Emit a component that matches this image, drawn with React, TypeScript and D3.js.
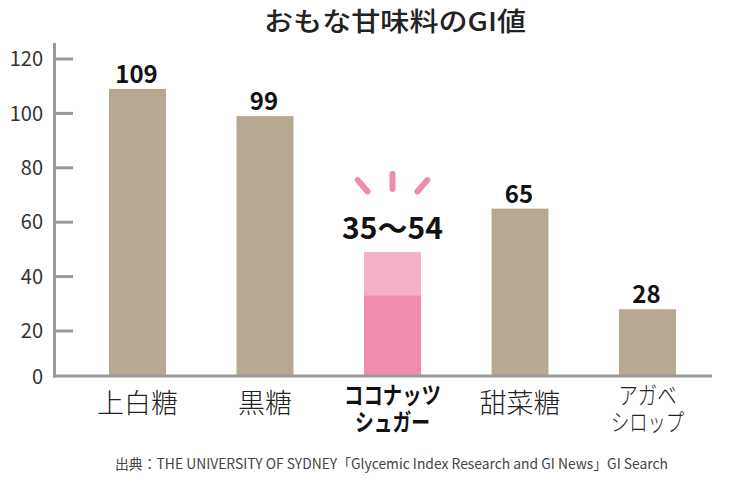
import React from "react";
import * as d3 from "d3";

const categories = ["上白糖", "黒糖", "ココナッツシュガー", "甜菜糖", "アガベシロップ"];
const labelLines = [["上白糖"], ["黒糖"], ["ココナッツ", "シュガー"], ["甜菜糖"], ["アガベ", "シロップ"]];
const values = [109, 99, null, 65, 28];
const valueLabels = ["109", "99", "35〜54", "65", "28"];
const rangeLow = 33;
const rangeHigh = 49;
const yTicks = [0, 20, 40, 60, 80, 100, 120];
const title = "おもな甘味料のGI値";
const source = "出典：THE UNIVERSITY OF SYDNEY「Glycemic Index Research and GI News」GI Search";

const W = 750, H = 500;
const FONT = "'Noto Sans CJK JP', 'Noto Sans', sans-serif";
const TAN = "#b6a893";
const PINK_DARK = "#ef8bab";
const PINK_LIGHT = "#f4b0c6";
const AXIS = "#9a9a9a";

const rayDefs = [
  { deg: -41, r1: 38, r2: 53 },
  { deg: 0, r1: 31, r2: 46 },
  { deg: 41, r1: 38, r2: 53 },
];

export default function App() {
  const y = d3.scaleLinear().domain([0, 120]).range([385.4, 59]);
  const x = d3.scaleBand<string>().domain(categories).range([55, 730]).paddingInner(0.553).paddingOuter(0.4235);
  const baseY = 376;
  const axisX = 54.5;
  const bw = x.bandwidth();

  const highlightIdx = 2;
  const hc = (x(categories[highlightIdx]) as number) + bw / 2;
  const labelY = y(rangeHigh) - 13;
  const oy = labelY - 19;
  const rays = rayDefs.map(({ deg, r1, r2 }) => {
    const r = (deg * Math.PI) / 180;
    return {
      x1: hc + Math.sin(r) * r1,
      y1: oy - Math.cos(r) * r1,
      x2: hc + Math.sin(r) * r2,
      y2: oy - Math.cos(r) * r2,
    };
  });

  return (
    <svg width={W} height={H} style={{ position: "absolute", left: 0, top: 0, background: "#fff" }} fontFamily={FONT}>
      <text x={395} y={30.5} textAnchor="middle" fontSize={26} fontWeight={500} fill="#222" textLength={262} lengthAdjust="spacingAndGlyphs">{title}</text>

      {/* y ticks */}
      {yTicks.map((t) => (
        <g key={t}>
          {t !== 0 && <line x1={axisX} x2={73} y1={y(t)} y2={y(t)} stroke={AXIS} strokeWidth={3} />}
          <text x={43} y={t === 0 ? baseY + 1 : y(t)} dy="0.36em" textAnchor="end" fontSize={20} fill="#333">{t}</text>
        </g>
      ))}

      {/* bars */}
      {categories.map((c, i) => {
        const bx = x(c) as number;
        const v = values[i];
        if (v === null) {
          return (
            <g key={c}>
              <rect x={bx} y={y(rangeHigh)} width={bw} height={baseY - y(rangeHigh)} fill={PINK_LIGHT} />
              <rect x={bx} y={y(rangeLow)} width={bw} height={baseY - y(rangeLow)} fill={PINK_DARK} />
              <text x={bx + bw / 2} y={labelY} textAnchor="middle" fontSize={30} fontWeight={700} fill="#111">{valueLabels[i]}</text>
            </g>
          );
        }
        return (
          <g key={c}>
            <rect x={bx} y={y(v)} width={bw} height={baseY - y(v)} fill={TAN} />
            <text x={bx + bw / 2 - 1} y={y(v) - 6} textAnchor="middle" fontSize={24} fontWeight={700} fill="#111">{valueLabels[i]}</text>
          </g>
        );
      })}

      {rays.map((r, i) => (
        <line key={i} x1={r.x1} y1={r.y1} x2={r.x2} y2={r.y2} stroke={PINK_DARK} strokeWidth={6} strokeLinecap="round" />
      ))}

      {/* axes */}
      <line x1={axisX} x2={axisX} y1={43} y2={baseY + 1.5} stroke={AXIS} strokeWidth={3} />
      <line x1={axisX - 1.5} x2={712} y1={baseY} y2={baseY} stroke={AXIS} strokeWidth={3} />

      {/* category labels */}
      {categories.map((c, i) => {
        const cx = (x(c) as number) + bw / 2;
        const lines = labelLines[i];
        const bold = i === highlightIdx;
        if (lines.length === 1) {
          return (
            <text key={c} x={cx} y={403} dy="0.36em" textAnchor="middle" fontSize={27} fontWeight={300} fill="#222">{lines[0]}</text>
          );
        }
        const widths = bold ? [97, 75] : [58, 73];
        return (
          <text key={c} textAnchor="middle" fontSize={24} fontWeight={bold ? 700 : 300} fill={bold ? "#111" : "#222"}>
            {lines.map((ln, j) => (
              <tspan key={j} x={cx} y={395 + j * 27} dy="0.36em" textLength={widths[j]} lengthAdjust="spacingAndGlyphs">{ln}</tspan>
            ))}
          </text>
        );
      })}

      <text x={115} y={469} fontSize={14} fill="#444" textLength={553} lengthAdjust="spacingAndGlyphs">{source}</text>
    </svg>
  );
}
